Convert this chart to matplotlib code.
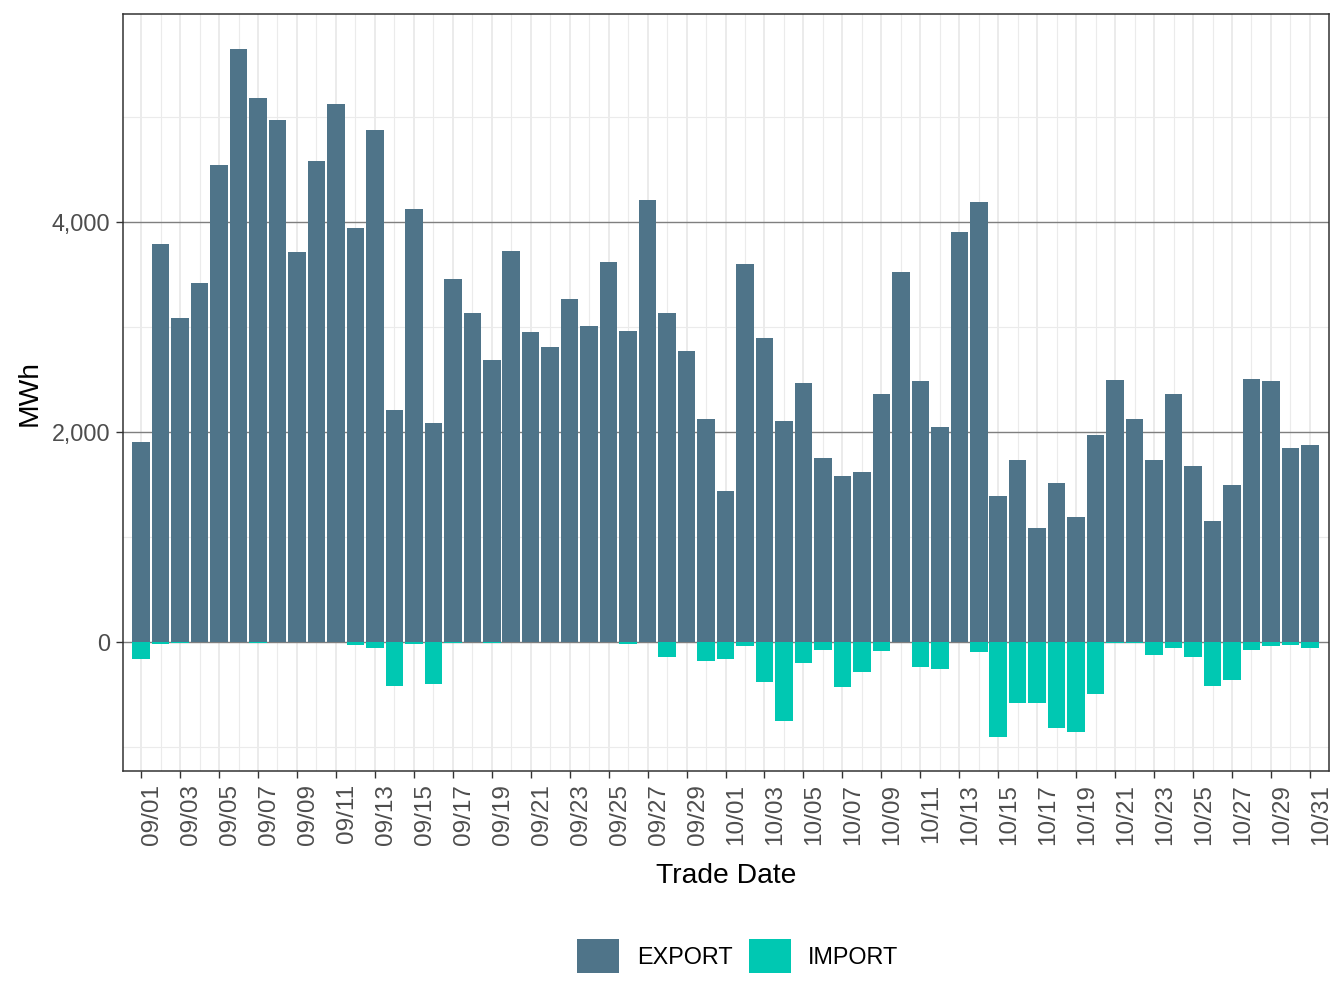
import matplotlib
matplotlib.use("Agg")
import matplotlib.pyplot as plt
from matplotlib.ticker import FixedLocator, MultipleLocator, FuncFormatter
from matplotlib.patches import Patch
import pandas as pd

plt.rcParams['font.family'] = ['Liberation Sans', 'DejaVu Sans']

# ---- data ----
dates = pd.date_range('2023-09-01', '2023-10-31').strftime('%m/%d').tolist()

export_mwh = [1905, 3790, 3086, 3419, 4540, 5648, 5181, 4971, 3714, 4581,
              5124, 3943, 4876, 2210, 4124, 2086, 3457, 3133, 2686, 3724,
              2952, 2810, 3267, 3010, 3619, 2962, 4210, 3133, 2771, 2124,
              1440, 3600, 2895, 2105, 2467, 1752, 1581, 1619, 2362, 3524,
              2486, 2048, 3905, 4190, 1390, 1733, 1086, 1514, 1190, 1971,
              2495, 2124, 1733, 2362, 1676, 1152, 1495, 2505, 2486, 1848,
              1876]

import_mwh = [-166, -23, -8, 0, 0, 0, -7, 0, 0, 0,
              0, -32, -61, -423, -23, -404, -13, 0, -13, 0,
              -3, 0, 0, 0, 0, -23, 0, -147, 0, -185,
              -166, -42, -385, -756, -204, -80, -432, -289, -89, 0,
              -242, -261, 0, -99, -908, -585, -585, -823, -861, -499,
              -13, -13, -128, -61, -147, -423, -366, -80, -42, -32,
              -61]

series_names = ['EXPORT', 'IMPORT']
series_colors = ['#4f7489', '#00c8b2']

# ---- figure ----
fig = plt.figure(figsize=(13.44, 10.08), dpi=100)
ax = fig.add_axes([123/1344, 1-771/1008, (1329-123)/1344, (771-14)/1008])

x = list(range(len(dates)))
ax.bar(x, export_mwh, width=0.9, color=series_colors[0], zorder=2)
ax.bar(x, import_mwh, width=0.9, color=series_colors[1], zorder=2)

ax.set_xlim(-0.93, 60.98)
ax.set_ylim(-1229, 5981)

# ticks
ax.xaxis.set_major_locator(FixedLocator(x[::2]))
ax.xaxis.set_minor_locator(FixedLocator(x[1::2]))
ax.set_xticklabels(dates[::2])
ax.yaxis.set_major_locator(MultipleLocator(2000))
ax.yaxis.set_minor_locator(MultipleLocator(1000))
ax.yaxis.set_major_formatter(FuncFormatter(lambda v, p: f"{int(v):,}"))

ax.tick_params(which='major', length=5.3, width=1.0, color='#333333',
               labelsize=16.8, labelcolor='#4d4d4d')
ax.tick_params(axis='x', which='major', pad=4)
ax.tick_params(axis='y', which='major', pad=4)
ax.tick_params(which='minor', length=0)
for lab in ax.get_xticklabels():
    lab.set_rotation(90)
    lab.set_ha('left')
    lab.set_va('top')
    lab.set_fontsize(17.5)

# grid
ax.set_axisbelow(True)
ax.xaxis.grid(True, which='major', color='#ebebeb', lw=1.4, zorder=0)
ax.xaxis.grid(True, which='minor', color='#ebebeb', lw=0.8, zorder=0)
ax.yaxis.grid(True, which='major', color='#7f7f7f', lw=1.0, zorder=0)
ax.yaxis.grid(True, which='minor', color='#ebebeb', lw=0.8, zorder=0)

for s in ax.spines.values():
    s.set_color('#333333')
    s.set_linewidth(1.1)

ax.set_xlabel('Trade Date', fontsize=20.3, color='black', labelpad=13)
ax.set_ylabel('MWh', fontsize=20.3, color='black', labelpad=6)

handles = [Patch(facecolor=c, edgecolor='none', label=n)
           for n, c in zip(series_names, series_colors)]
fig.legend(handles=handles, loc='center', bbox_to_anchor=(738/1344, 1-956/1008),
           ncol=2, frameon=False, fontsize=16.8, handlelength=1.8,
           handleheight=1.8, handletextpad=0.75, columnspacing=0.7)

fig.savefig('out.png', dpi=100)
